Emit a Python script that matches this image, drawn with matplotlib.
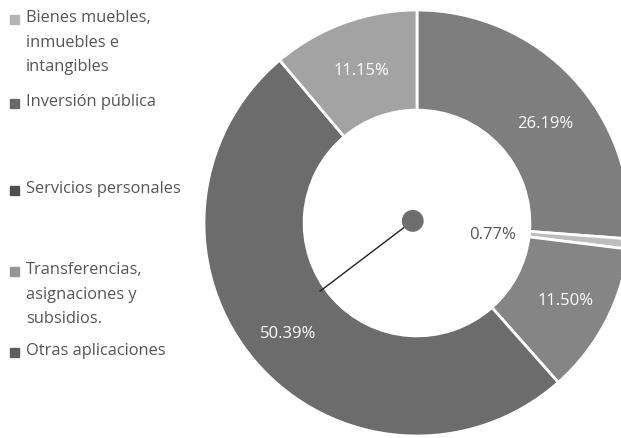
import numpy as np
import matplotlib.pyplot as plt

# data, clockwise from 12 o'clock
shares = [26.19, 0.77, 11.50, 50.39, 11.15]
share_labels = ['26.19%', '0.77%', '11.50%', '50.39%', '11.15%']
slice_colors = ['#7e7e7e', '#bdbdbd', '#858585', '#6c6c6c', '#a3a3a3']

legend_names = ['Bienes muebles,\ninmuebles e\nintangibles',
                'Inversión pública',
                'Servicios personales',
                'Transferencias,\nasignaciones y\nsubsidios.',
                'Otras aplicaciones']
legend_colors = ['#b4b4b4', '#6a6a6a', '#4e4e4e', '#969696', '#5e5e5e']

plt.rcParams['font.family'] = ['Open Sans', 'DejaVu Sans']

W, H = 621, 438
fig = plt.figure(figsize=(W / 100, H / 100), dpi=100)

# donut axes, square in pixels, centred at (417, 223)
cx, cy, R = 417, 223, 213
ax = fig.add_axes([(cx - R) / W, (H - cy - R) / H, 2 * R / W, 2 * R / H])
wedges, _ = ax.pie(shares, colors=slice_colors, startangle=90, counterclock=False,
                   radius=1.0, wedgeprops=dict(width=0.47, edgecolor='white', linewidth=2))
ax.set_xlim(-1, 1)
ax.set_ylim(-1, 1)
ax.set_aspect('equal')
ax.axis('off')

# label radii (fraction of outer radius) and angle nudges, per slice
lab_r = [0.76, 0.36, 0.79, 0.80, 0.76]
lab_da = [-5, -3, 0, 0, 0]
lab_col = ['white', '#555555', 'white', 'white', 'white']
start = 90.0
for w, lab, r, da, c in zip(shares, share_labels, lab_r, lab_da, lab_col):
    mid = np.deg2rad(start - w * 3.6 / 2 + da)
    start -= w * 3.6
    ax.text(r * np.cos(mid), r * np.sin(mid), lab, ha='center', va='center',
            color=c, fontsize=12)

# stray leader line with dot
ax.plot([-0.02, -0.455], [0.01, -0.32], color='#222222', lw=1.0)
ax.add_patch(plt.Circle((-0.02, 0.01), 0.048, color='#6e6e6e', zorder=5))

# legend on the left
legend_y = [19, 103, 190, 271, 352]
for name, col, y in zip(legend_names, legend_colors, legend_y):
    fig.patches.append(plt.Rectangle((10 / W, 1 - (y + 5) / H), 9 / W, 9 / H,
                                     transform=fig.transFigure, color=col))
    fig.text(26 / W, 1 - (y - 9) / H, name, ha='left', va='top', fontsize=11.8,
             color='#555555', linespacing=1.72)

plt.savefig('out.png', dpi=100)
